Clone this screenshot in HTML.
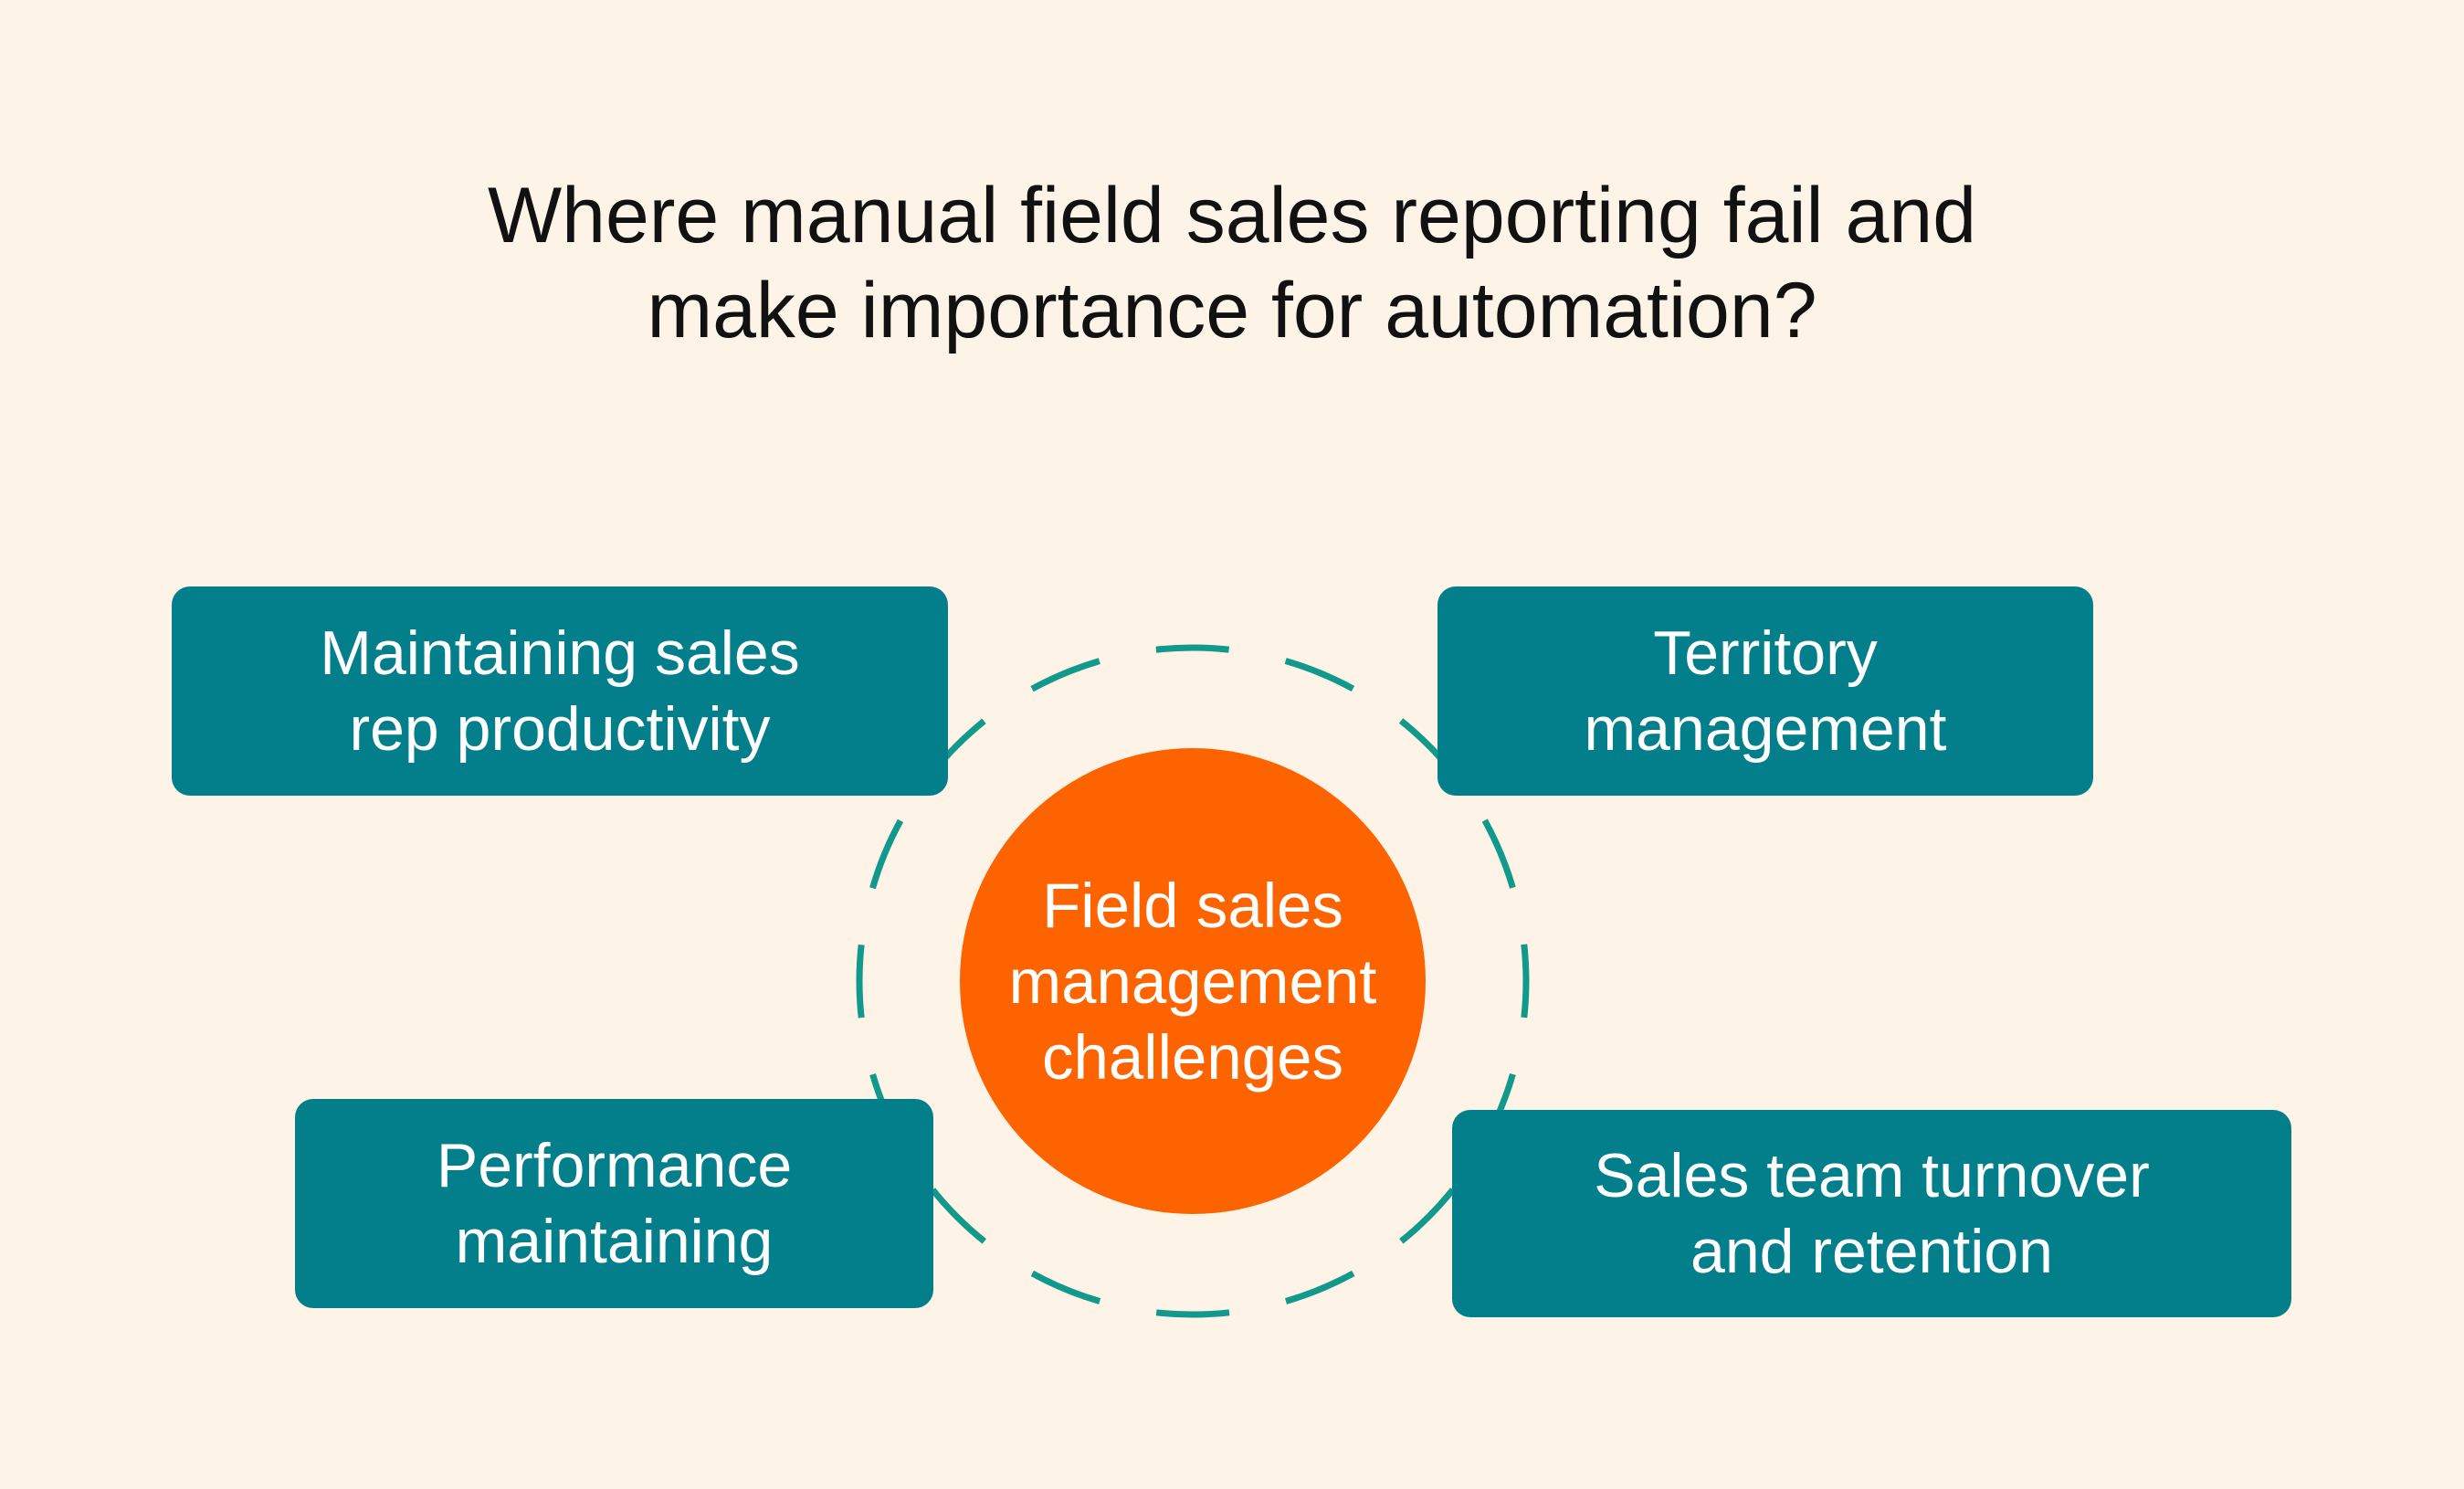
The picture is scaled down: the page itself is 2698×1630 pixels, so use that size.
<!DOCTYPE html>
<html><head><meta charset="utf-8"><style>
html,body{margin:0;padding:0}
body{width:2698px;height:1630px;background:#fdf3e7;position:relative;overflow:hidden;font-family:"Liberation Sans",sans-serif}
.t{position:absolute;left:0;width:2698px;text-align:center;font-size:86px;font-weight:500;color:#111;line-height:104px;top:184px}
.b{position:absolute;background:#037f8c;border-radius:20px;color:#fff;font-size:68px;line-height:83px;display:flex;align-items:center;justify-content:center;text-align:center}
.c{position:absolute;left:1051px;top:819px;width:510px;height:510px;border-radius:50%;background:#fd6400;color:#fff;font-size:69px;line-height:83px;display:flex;align-items:center;justify-content:center;text-align:center}
svg{position:absolute;left:0;top:0}
</style></head><body>
<div class="t">Where manual field sales reporting fail and<br>make importance for automation?</div>
<svg width="2698" height="1630"><circle cx="1306" cy="1074" r="365" fill="none" stroke="#11998c" stroke-width="7" stroke-dasharray="80 63.3" stroke-dashoffset="40"/></svg>
<div class="b" style="left:188px;top:642px;width:850px;height:229px">Maintaining sales<br>rep productivity</div>
<div class="b" style="left:1574px;top:642px;width:718px;height:229px">Territory<br>management</div>
<div class="b" style="left:323px;top:1203px;width:699px;height:229px">Performance<br>maintaining</div>
<div class="b" style="left:1590px;top:1215px;width:919px;height:227px">Sales team turnover<br>and retention</div>
<div class="c">Field sales<br>management<br>challenges</div>
</body></html>
